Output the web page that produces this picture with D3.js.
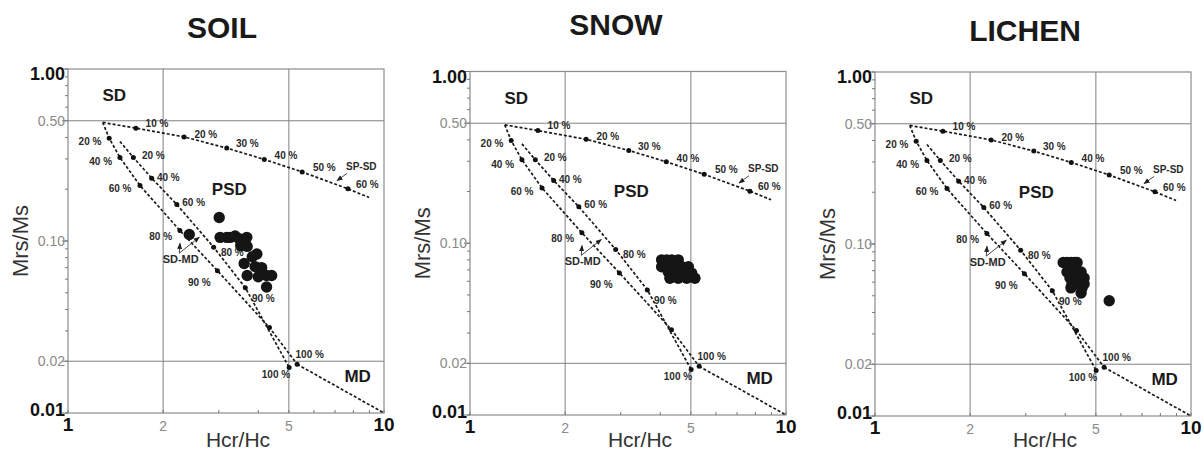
<!DOCTYPE html>
<html>
<head>
<meta charset="utf-8">
<script src="https://cdn.jsdelivr.net/npm/d3@7"></script>
<style>
body { margin: 0; background: #fff; }
text { font-family: "Liberation Sans", Arial, sans-serif; }
</style>
</head>
<body>
<div id="chart"></div>
<script>
// page size
var width = 1204;
var height = 453;

// panel titles
var panelNames = ['SOIL', 'SNOW', 'LICHEN'];

// axis ticks
var xTicks = [1, 2, 5, 10];
var xTickLabels = ['1', '2', '5', '10'];
var yTicks = [1, 0.5, 0.1, 0.02, 0.01];
var yTickLabels = ['1.00', '0.50', '0.10', '0.02', '0.01'];

// samples (Hcr/Hc, Mrs/Ms)
var soilHcr = [3.01, 2.42, 3.03, 3.18, 3.26, 3.38, 3.48, 3.68, 3.52, 3.69, 3.96, 3.83, 3.61, 3.91, 4.10, 3.69, 4.00, 4.25, 4.41, 4.25];
var soilMrs = [0.137, 0.109, 0.105, 0.105, 0.105, 0.107, 0.103, 0.105, 0.094, 0.093, 0.084, 0.081, 0.074, 0.071, 0.070, 0.063, 0.062, 0.063, 0.063, 0.054];

var snowHcr = [4.04, 4.19, 4.35, 4.56, 4.04, 4.19, 4.45, 4.68, 4.91, 4.24, 4.51, 4.73, 5.03, 4.29, 4.56, 4.85, 5.15];
var snowMrs = [0.080, 0.080, 0.080, 0.080, 0.073, 0.073, 0.073, 0.073, 0.073, 0.068, 0.068, 0.068, 0.067, 0.0625, 0.0625, 0.0625, 0.0625];

var lichenHcr = [3.94, 4.05, 4.17, 4.29, 4.36, 4.05, 4.20, 4.36, 4.49, 4.14, 4.29, 4.45, 4.59, 4.20, 4.39, 4.59, 4.17, 4.52, 4.49, 5.51];
var lichenMrs = [0.078, 0.078, 0.078, 0.078, 0.078, 0.0688, 0.0688, 0.0688, 0.0688, 0.0634, 0.0634, 0.0634, 0.0634, 0.0585, 0.0585, 0.0585, 0.0556, 0.0556, 0.0519, 0.0468];

// mixing curves (Dunlop 2002)
var spsdHcr = [1.288, 1.64, 2.33, 3.18, 4.18, 5.51, 7.69, 8.97];
var spsdMrs = [0.489, 0.453, 0.403, 0.347, 0.298, 0.252, 0.201, 0.179];
var sdmdAHcr = [1.288, 1.35, 1.46, 1.69, 2.26, 2.97, 4.34, 5.31];
var sdmdAMrs = [0.489, 0.396, 0.306, 0.21, 0.115, 0.0672, 0.0314, 0.0192];
var sdmdBHcr = [1.46, 1.61, 1.84, 2.21, 2.89, 3.64, 5.01];
var sdmdBMrs = [0.379, 0.306, 0.232, 0.163, 0.092, 0.0535, 0.0184];
var mdHcr = [5.31, 10];
var mdMrs = [0.0192, 0.01];

// curve labels
var pctText = ['10 %', '20 %', '30 %', '40 %', '50 %', '60 %',
  '20 %', '40 %', '60 %', '80 %', '90 %', '100 %',
  '20 %', '40 %', '60 %', '80 %', '90 %', '100 %', 'SP-SD', 'SD-MD'];
var pctHcr = [1.913, 2.729, 3.693, 4.896, 6.473, 8.855,
  1.174, 1.269, 1.461, 1.965, 2.604, 4.552,
  1.862, 2.077, 2.499, 3.311, 4.15, 5.82, 8.475, 2.273];
var pctMrs = [0.4818, 0.416, 0.3674, 0.3131, 0.2692, 0.2126,
  0.379, 0.2889, 0.2007, 0.1062, 0.0572, 0.01683,
  0.3144, 0.2344, 0.1672, 0.0858, 0.0462, 0.02198, 0.2729, 0.0784];

// domain labels
var zoneText = ['SD', 'PSD', 'MD'];
var zoneHcr = [1.401, 3.239, 8.255];
var zoneMrs = [0.7038, 0.2007, 0.01639];

// arrows [fromHcr, fromMrs, toHcr, toMrs]
var arrows = [
  [7.637, 0.2472, 7.1, 0.2242],
  [2.25, 0.085, 2.262, 0.0971],
  [2.25, 0.085, 2.604, 0.1052]
];

// panel boxes in the page
var panels = [
  {left: 68, right: 384, top: 69, bottom: 413, titleX: 222, titleY: 38},
  {left: 470, right: 786, top: 71.5, bottom: 415, titleX: 616, titleY: 35},
  {left: 875, right: 1191, top: 72, bottom: 416, titleX: 1025, titleY: 41}
];

var sampleHcr = [soilHcr, snowHcr, lichenHcr];
var sampleMrs = [soilMrs, snowMrs, lichenMrs];

var svg = d3.select('div#chart')
    .append('svg')
    .attr('width', width)
    .attr('height', height);

svg.append('defs').append('marker')
    .attr('id', 'arrow')
    .attr('viewBox', '0 0 10 10')
    .attr('refX', 9)
    .attr('refY', 5)
    .attr('markerWidth', 7)
    .attr('markerHeight', 7)
    .attr('orient', 'auto')
    .append('path')
    .attr('d', 'M0,1L10,5L0,9Z')
    .attr('fill', '#222');

function zip(a, b) {
    return a.map(function(v, i) { return [v, b[i]]; });
}

panels.forEach(function(p, k) {
    var g = svg.append('g');
    var x = d3.scaleLog().domain([1, 10]).range([p.left, p.right]);
    var y = d3.scaleLog().domain([0.01, 1]).range([p.bottom, p.top]);

    // title
    g.append('text')
        .attr('x', p.titleX)
        .attr('y', p.titleY)
        .attr('text-anchor', 'middle')
        .attr('font-size', 30)
        .attr('font-weight', 'bold')
        .attr('fill', '#1a1a1a')
        .text(panelNames[k]);

    // grid lines
    g.selectAll('.vgrid')
        .data([2, 5])
        .enter().append('line')
        .attr('x1', d => x(d)).attr('x2', d => x(d))
        .attr('y1', p.top).attr('y2', p.bottom)
        .attr('stroke', '#808080').attr('stroke-width', 1);
    g.selectAll('.hgrid')
        .data([0.5, 0.02])
        .enter().append('line')
        .attr('x1', p.left).attr('x2', p.right)
        .attr('y1', d => y(d)).attr('y2', d => y(d))
        .attr('stroke', '#808080').attr('stroke-width', 1);

    g.append('rect')
        .attr('x', p.left).attr('y', p.top)
        .attr('width', p.right - p.left)
        .attr('height', p.bottom - p.top)
        .attr('fill', 'none')
        .attr('stroke', '#8c8c8c')
        .attr('stroke-width', 1.2);

    // minor ticks
    g.selectAll('.ytick')
        .data(y.ticks())
        .enter().append('line')
        .attr('x1', p.left - 3).attr('x2', p.left)
        .attr('y1', d => y(d)).attr('y2', d => y(d))
        .attr('stroke', '#777');
    g.selectAll('.xtick')
        .data(x.ticks())
        .enter().append('line')
        .attr('x1', d => x(d)).attr('x2', d => x(d))
        .attr('y1', p.bottom - 3).attr('y2', p.bottom)
        .attr('stroke', '#777');
    g.selectAll('.ymajor')
        .data(yTicks)
        .enter().append('line')
        .attr('x1', p.left - 6).attr('x2', p.left)
        .attr('y1', d => y(d)).attr('y2', d => y(d))
        .attr('stroke', '#777');

    // tick labels
    g.selectAll('.ylab')
        .data(yTicks)
        .enter().append('text')
        .attr('x', p.left - 3)
        .attr('y', (d, i) => y(d) + (i == 0 ? 11 : (i == 4 ? 3 : 5)))
        .attr('text-anchor', 'end')
        .attr('font-size', (d, i) => (i == 0 || i == 4) ? 18 : 14)
        .attr('font-weight', (d, i) => (i == 0 || i == 4) ? 'bold' : 'normal')
        .attr('fill', (d, i) => (i == 0 || i == 4) ? '#111' : '#8a8a8a')
        .text((d, i) => yTickLabels[i]);
    g.selectAll('.xlab')
        .data(xTicks)
        .enter().append('text')
        .attr('x', d => x(d))
        .attr('y', p.bottom + 18)
        .attr('text-anchor', 'middle')
        .attr('font-size', (d, i) => (i == 0 || i == 3) ? 19 : 14)
        .attr('font-weight', (d, i) => (i == 0 || i == 3) ? 'bold' : 'normal')
        .attr('fill', (d, i) => (i == 0 || i == 3) ? '#111' : '#8a8a8a')
        .text((d, i) => xTickLabels[i]);

    // axis titles
    g.append('text')
        .attr('x', p.left + 170)
        .attr('y', Math.min(p.bottom + 34, 447))
        .attr('text-anchor', 'middle')
        .attr('font-size', 21)
        .attr('fill', '#333')
        .text('Hcr/Hc');
    g.append('text')
        .attr('transform', 'translate(' + (p.left - 40) + ',' + y(0.1) + ') rotate(-90)')
        .attr('text-anchor', 'middle')
        .attr('font-size', 22)
        .attr('fill', '#333')
        .text('Mrs/Ms');

    // mixing curves
    var line = d3.line().x(d => x(d[0])).y(d => y(d[1]));
    var curves = [zip(spsdHcr, spsdMrs), zip(sdmdAHcr, sdmdAMrs), zip(sdmdBHcr, sdmdBMrs), zip(mdHcr, mdMrs)];
    g.selectAll('.curve')
        .data(curves)
        .enter().append('path')
        .attr('d', line)
        .attr('fill', 'none')
        .attr('stroke', '#1a1a1a')
        .attr('stroke-width', 1.7)
        .attr('stroke-dasharray', '3,2');

    var nodes = zip(spsdHcr.slice(1, 7), spsdMrs.slice(1, 7))
        .concat(zip(sdmdAHcr.slice(1), sdmdAMrs.slice(1)))
        .concat(zip(sdmdBHcr.slice(1), sdmdBMrs.slice(1)));
    g.selectAll('.node')
        .data(nodes)
        .enter().append('circle')
        .attr('cx', d => x(d[0]))
        .attr('cy', d => y(d[1]))
        .attr('r', 2.5)
        .attr('fill', '#111');

    // curve labels
    g.selectAll('.pct')
        .data(pctText)
        .enter().append('text')
        .attr('x', (d, i) => x(pctHcr[i]))
        .attr('y', (d, i) => y(pctMrs[i]) + 3.5)
        .attr('text-anchor', 'middle')
        .attr('font-size', d => d == 'SD-MD' ? 11 : 10)
        .attr('font-weight', 'bold')
        .attr('fill', '#2a2a2a')
        .text(d => d);

    g.selectAll('.arrow')
        .data(arrows)
        .enter().append('line')
        .attr('x1', d => x(d[0])).attr('y1', d => y(d[1]))
        .attr('x2', d => x(d[2])).attr('y2', d => y(d[3]))
        .attr('stroke', '#333')
        .attr('stroke-width', 0.9)
        .attr('marker-end', 'url(#arrow)');

    // domain labels
    g.selectAll('.zone')
        .data(zoneText)
        .enter().append('text')
        .attr('x', (d, i) => x(zoneHcr[i]))
        .attr('y', (d, i) => y(zoneMrs[i]) + 6)
        .attr('text-anchor', 'middle')
        .attr('font-size', 17)
        .attr('font-weight', 'bold')
        .attr('fill', '#1a1a1a')
        .text(d => d);

    // samples
    g.selectAll('.sample')
        .data(zip(sampleHcr[k], sampleMrs[k]))
        .enter().append('circle')
        .attr('cx', d => x(d[0]))
        .attr('cy', d => y(d[1]))
        .attr('r', 5.7)
        .attr('fill', '#151515');
});
</script>
</body>
</html>
